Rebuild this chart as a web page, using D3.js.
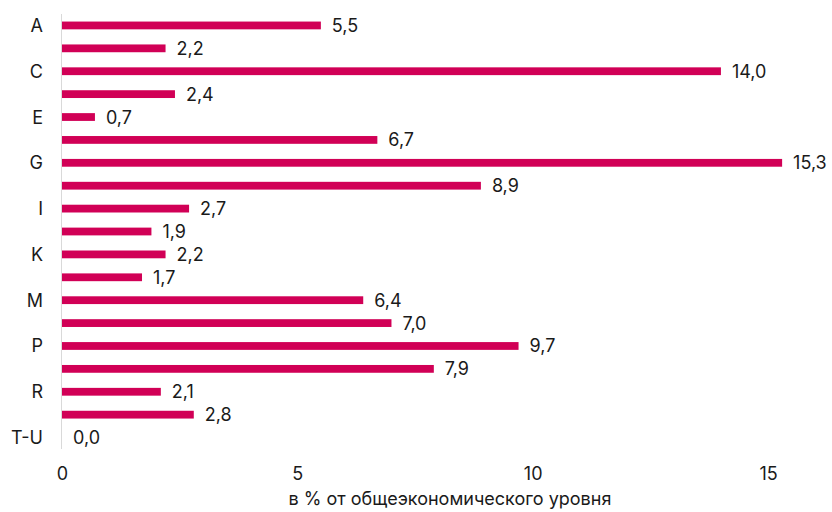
<!DOCTYPE html>
<html>
<head>
<meta charset="utf-8">
<script src="https://cdn.jsdelivr.net/npm/d3@7"></script>
<style>
  body { margin: 0; background: #fff; }
  text { font-family: Inter, "Noto Sans", sans-serif; fill: #1a1a1a; }
</style>
</head>
<body>
<svg id="chart"></svg>
<script>
var categories = ['A', 'B', 'C', 'D', 'E', 'F', 'G', 'H', 'I', 'J', 'K', 'L', 'M', 'N', 'P', 'Q', 'R', 'S', 'T-U'];
var values = [5.5, 2.2, 14.0, 2.4, 0.7, 6.7, 15.3, 8.9, 2.7, 1.9, 2.2, 1.7, 6.4, 7.0, 9.7, 7.9, 2.1, 2.8, 0.0];
var shownLabels = ['A', 'C', 'E', 'G', 'I', 'K', 'M', 'P', 'R', 'T-U'];
var xTicks = [0, 5, 10, 15];
var axisTitle = 'в % от общеэкономического уровня';

var width = 832, height = 512;
var svg = d3.select('#chart').attr('width', width).attr('height', height);

var x = d3.scaleLinear().domain([0, 15]).range([62, 768]);
var y = d3.scaleBand().domain(categories).range([14, 449]).paddingInner(0.66).paddingOuter(0.33);

var data = categories.map(function (c, i) { return { cat: c, value: values[i] }; });
var fmt = function (v) { return v.toFixed(1).replace('.', ','); };

svg.append('line')
  .attr('x1', x(0) - 0.5).attr('x2', x(0) - 0.5)
  .attr('y1', 14).attr('y2', 449)
  .style('stroke', '#d9d9d9').style('stroke-width', 1);

svg.selectAll('.bar')
  .data(data)
  .enter().append('rect')
  .attr('class', 'bar')
  .attr('x', x(0))
  .attr('y', function (d) { return y(d.cat); })
  .attr('width', function (d) { return x(d.value) - x(0); })
  .attr('height', y.bandwidth())
  .style('fill', '#d10056');

svg.selectAll('.value')
  .data(data)
  .enter().append('text')
  .attr('class', 'value')
  .attr('x', function (d) { return x(d.value) + 11; })
  .attr('y', function (d) { return y(d.cat) + y.bandwidth() / 2; })
  .attr('dy', '0.36em')
  .style('font-size', '18px')
  .text(function (d) { return fmt(d.value); });

svg.selectAll('.cat')
  .data(data.filter(function (d) { return shownLabels.indexOf(d.cat) >= 0; }))
  .enter().append('text')
  .attr('class', 'cat')
  .attr('x', 43)
  .attr('y', function (d) { return y(d.cat) + y.bandwidth() / 2; })
  .attr('dy', '0.36em')
  .attr('text-anchor', 'end')
  .style('font-size', '18px')
  .text(function (d) { return d.cat; });

var axis = svg.append('g')
  .attr('transform', 'translate(0,467)')
  .call(d3.axisBottom(x).tickValues(xTicks).tickSize(0).tickPadding(0).tickFormat(d3.format('d')));
axis.select('.domain').remove();
axis.selectAll('text')
  .style('font-size', '18px')
  .style('font-family', 'Inter, "Noto Sans", sans-serif')
  .attr('fill', '#1a1a1a')
  .attr('y', 13)
  .attr('dy', null);

svg.append('text')
  .attr('x', 450)
  .attr('y', 505)
  .attr('text-anchor', 'middle')
  .style('font-size', '18px')
  .text(axisTitle);
</script>
</body>
</html>
